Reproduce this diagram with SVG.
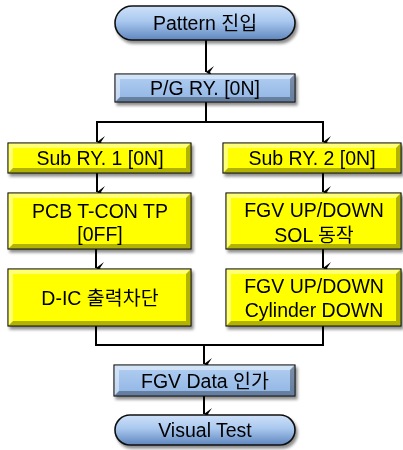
<svg xmlns="http://www.w3.org/2000/svg" width="403" height="450" viewBox="0 0 403 450">
  <defs>
    <linearGradient id="blueFill" x1="0" y1="0" x2="0" y2="1">
      <stop offset="0" stop-color="#b3cff2"/>
      <stop offset="1" stop-color="#8fb4e3"/>
    </linearGradient>
    <linearGradient id="ovalFill" x1="0" y1="0" x2="0" y2="1">
      <stop offset="0" stop-color="#cfe1f8"/>
      <stop offset="0.45" stop-color="#a9c8ef"/>
      <stop offset="1" stop-color="#5f86bd"/>
    </linearGradient>
    <filter id="shadow" x="-10%" y="-20%" width="125%" height="160%">
      <feGaussianBlur in="SourceAlpha" stdDeviation="1.5"/>
      <feOffset dx="1.5" dy="2.5" result="b"/>
      <feComponentTransfer><feFuncA type="linear" slope="0.45"/></feComponentTransfer>
      <feMerge><feMergeNode/><feMergeNode in="SourceGraphic"/></feMerge>
    </filter>
    <marker id="arrow" viewBox="0 0 12 10" refX="6" refY="10" markerWidth="12" markerHeight="10" markerUnits="userSpaceOnUse" orient="auto-start-reverse">
      <path d="M0,2 L6,10 L12,2 L6,6 Z" fill="#000"/>
    </marker>
  </defs>
  <style>
    .box { stroke: #1a1a1a; stroke-width: 1.2; }
    .blue { fill: url(#blueFill); }
    .yellow { fill: #ffff00; }
    .hi { fill: #ffffff; opacity: 0.45; }
    .lo { fill: #000000; opacity: 0.3; }
    .oval { fill: url(#ovalFill); stroke: #111; stroke-width: 1.6; }
    .label { font-family: "Liberation Sans", "Noto Sans CJK KR", sans-serif; font-size: 19.5px; fill: #000; text-anchor: middle; }
    .conn { fill: none; stroke: #000; stroke-width: 2; }
  </style>

  <!-- connectors -->
  <g id="connectors">
    <path class="conn" d="M206,40 V72" marker-end="url(#arrow)"/>
    <path class="conn" d="M206,102 V122 H97 V142" marker-end="url(#arrow)"/>
    <path class="conn" d="M206,122 H323 V142" marker-end="url(#arrow)"/>
    <path class="conn" d="M97,173 V192" marker-end="url(#arrow)"/>
    <path class="conn" d="M323,173 V192" marker-end="url(#arrow)"/>
    <path class="conn" d="M96,249 V268" marker-end="url(#arrow)"/>
    <path class="conn" d="M323,249 V268" marker-end="url(#arrow)"/>
    <path class="conn" d="M96,326 V345 H323 V326"/>
    <path class="conn" d="M204,345 V364" marker-end="url(#arrow)"/>
    <path class="conn" d="M204,396 V414" marker-end="url(#arrow)"/>
  </g>

  <!-- start -->
  <g id="pattern" filter="url(#shadow)">
    <rect class="oval" x="115" y="6" width="180" height="34" rx="17" ry="17"/>
    <text class="label" x="205" y="30">Pattern 진입</text>
  </g>

  <g id="pg-ry" filter="url(#shadow)">
    <rect class="box blue" x="115" y="74" width="180" height="28"/>
    <path class="hi" d="M115.6,74.6 H294.4 L290,79 H120 Z"/>
    <path class="hi" d="M115.6,74.6 L120,79 V97 L115.6,101.4 Z"/>
    <path class="lo" d="M115.6,101.4 H294.4 L290,97 H120 Z"/>
    <path class="lo" d="M294.4,74.6 L290,79 V97 L294.4,101.4 Z"/>
    <text class="label" x="205" y="95">P/G RY. [0N]</text>
  </g>

  <g id="sub-ry-1" filter="url(#shadow)">
    <rect class="box yellow" x="8" y="143" width="183" height="30"/>
    <path class="hi" d="M8.6,143.6 H190.4 L186,148 H13 Z"/>
    <path class="hi" d="M8.6,143.6 L13,148 V168 L8.6,172.4 Z"/>
    <path class="lo" d="M8.6,172.4 H190.4 L186,168 H13 Z"/>
    <path class="lo" d="M190.4,143.6 L186,148 V168 L190.4,172.4 Z"/>
    <text class="label" x="100" y="165">Sub RY. 1 [0N]</text>
  </g>

  <g id="sub-ry-2" filter="url(#shadow)">
    <rect class="box yellow" x="223" y="143" width="178" height="30"/>
    <path class="hi" d="M223.6,143.6 H400.4 L396,148 H228 Z"/>
    <path class="hi" d="M223.6,143.6 L228,148 V168 L223.6,172.4 Z"/>
    <path class="lo" d="M223.6,172.4 H400.4 L396,168 H228 Z"/>
    <path class="lo" d="M400.4,143.6 L396,148 V168 L400.4,172.4 Z"/>
    <text class="label" x="312" y="165">Sub RY. 2 [0N]</text>
  </g>

  <g id="pcb-tcon" filter="url(#shadow)">
    <rect class="box yellow" x="8" y="193" width="183" height="56"/>
    <path class="hi" d="M8.6,193.6 H190.4 L186,198 H13 Z"/>
    <path class="hi" d="M8.6,193.6 L13,198 V244 L8.6,248.4 Z"/>
    <path class="lo" d="M8.6,248.4 H190.4 L186,244 H13 Z"/>
    <path class="lo" d="M190.4,193.6 L186,198 V244 L190.4,248.4 Z"/>
    <text class="label" x="100" y="218">PCB T-CON TP</text>
    <text class="label" x="100" y="241">[0FF]</text>
  </g>

  <g id="fgv-sol" filter="url(#shadow)">
    <rect class="box yellow" x="226" y="193" width="175" height="56"/>
    <path class="hi" d="M226.6,193.6 H400.4 L396,198 H231 Z"/>
    <path class="hi" d="M226.6,193.6 L231,198 V244 L226.6,248.4 Z"/>
    <path class="lo" d="M226.6,248.4 H400.4 L396,244 H231 Z"/>
    <path class="lo" d="M400.4,193.6 L396,198 V244 L400.4,248.4 Z"/>
    <text class="label" x="314" y="217">FGV UP/DOWN</text>
    <text class="label" x="314" y="242">SOL 동작</text>
  </g>

  <g id="dic" filter="url(#shadow)">
    <rect class="box yellow" x="8" y="269" width="183" height="57"/>
    <path class="hi" d="M8.6,269.6 H190.4 L186,274 H13 Z"/>
    <path class="hi" d="M8.6,269.6 L13,274 V321 L8.6,325.4 Z"/>
    <path class="lo" d="M8.6,325.4 H190.4 L186,321 H13 Z"/>
    <path class="lo" d="M190.4,269.6 L186,274 V321 L190.4,325.4 Z"/>
    <text class="label" x="100" y="305">D-IC 출력차단</text>
  </g>

  <g id="fgv-cylinder" filter="url(#shadow)">
    <rect class="box yellow" x="226" y="269" width="175" height="57"/>
    <path class="hi" d="M226.6,269.6 H400.4 L396,274 H231 Z"/>
    <path class="hi" d="M226.6,269.6 L231,274 V321 L226.6,325.4 Z"/>
    <path class="lo" d="M226.6,325.4 H400.4 L396,321 H231 Z"/>
    <path class="lo" d="M400.4,269.6 L396,274 V321 L400.4,325.4 Z"/>
    <text class="label" x="314" y="293">FGV UP/DOWN</text>
    <text class="label" x="314" y="317">Cylinder DOWN</text>
  </g>

  <g id="fgv-data" filter="url(#shadow)">
    <rect class="box blue" x="114" y="365" width="181" height="31"/>
    <path class="hi" d="M114.6,365.6 H294.4 L290,370 H119 Z"/>
    <path class="hi" d="M114.6,365.6 L119,370 V391 L114.6,395.4 Z"/>
    <path class="lo" d="M114.6,395.4 H294.4 L290,391 H119 Z"/>
    <path class="lo" d="M294.4,365.6 L290,370 V391 L294.4,395.4 Z"/>
    <text class="label" x="205" y="388">FGV Data 인가</text>
  </g>

  <!-- end -->
  <g id="visual-test" filter="url(#shadow)">
    <rect class="oval" x="115" y="415" width="180" height="30" rx="15" ry="15"/>
    <text class="label" x="205" y="437">Visual Test</text>
  </g>
</svg>
